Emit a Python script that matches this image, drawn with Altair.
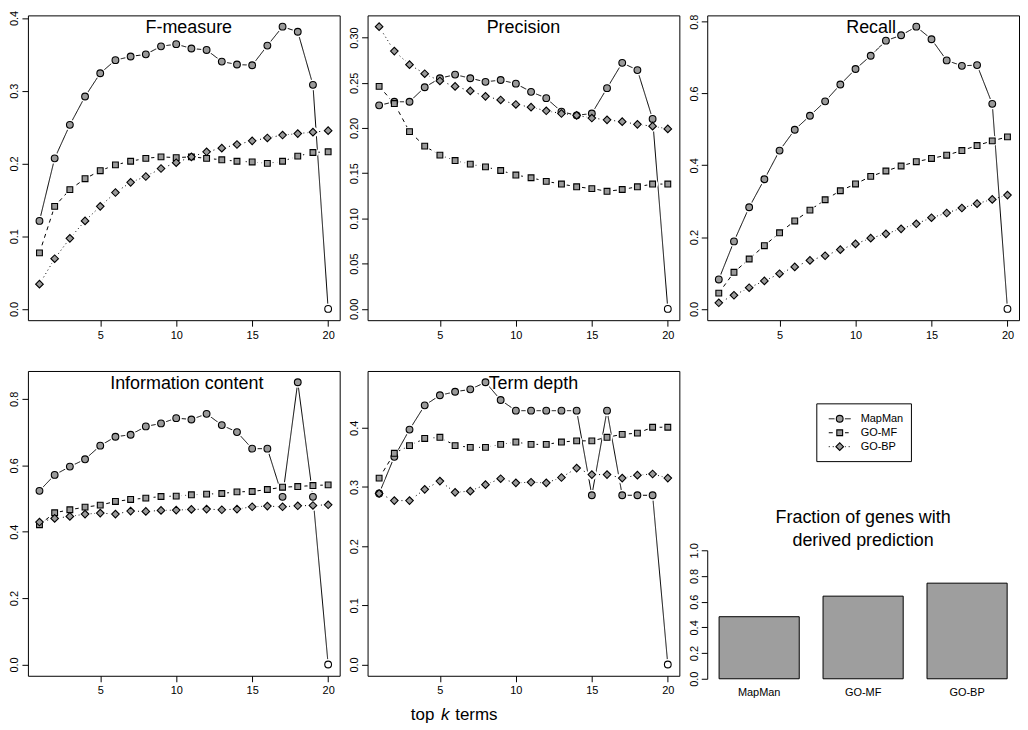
import altair as alt
import pandas as pd

FONT = "Liberation Sans"
GRAY = "#9a9a9a"

k = list(range(1, 21))
series = ["MapMan", "GO-MF", "GO-BP"]
x_ticks = [5, 10, 15, 20]

# F-measure
f_mapman = [0.121, 0.207, 0.253, 0.292, 0.324, 0.342, 0.347, 0.350, 0.361, 0.364,
            0.358, 0.356, 0.340, 0.336, 0.335, 0.362, 0.388, 0.381, 0.308, 0.000]
f_gomf = [0.077, 0.141, 0.164, 0.179, 0.190, 0.198, 0.203, 0.207, 0.209, 0.208,
          0.209, 0.207, 0.205, 0.203, 0.202, 0.200, 0.203, 0.210, 0.215, 0.216]
f_gobp = [0.034, 0.069, 0.097, 0.121, 0.141, 0.160, 0.174, 0.182, 0.193, 0.201,
          0.209, 0.216, 0.221, 0.226, 0.231, 0.235, 0.239, 0.241, 0.243, 0.245]

# Precision
p_mapman = [0.225, 0.229, 0.229, 0.245, 0.255, 0.259, 0.255, 0.251, 0.253, 0.249,
            0.240, 0.233, 0.218, 0.214, 0.216, 0.244, 0.272, 0.264, 0.210, 0.000]
p_gomf = [0.246, 0.227, 0.196, 0.180, 0.170, 0.164, 0.160, 0.157, 0.153, 0.148,
          0.145, 0.141, 0.138, 0.135, 0.133, 0.130, 0.132, 0.135, 0.138, 0.138]
p_gobp = [0.312, 0.285, 0.270, 0.260, 0.252, 0.246, 0.241, 0.235, 0.231, 0.226,
          0.223, 0.219, 0.216, 0.214, 0.211, 0.209, 0.207, 0.204, 0.202, 0.199]

# Recall
r_mapman = [0.082, 0.188, 0.283, 0.361, 0.441, 0.499, 0.538, 0.578, 0.625, 0.668,
            0.705, 0.747, 0.762, 0.786, 0.751, 0.692, 0.677, 0.679, 0.571, 0.000]
r_gomf = [0.044, 0.102, 0.139, 0.176, 0.212, 0.245, 0.275, 0.304, 0.329, 0.348,
          0.369, 0.384, 0.398, 0.410, 0.419, 0.428, 0.441, 0.455, 0.468, 0.479]
r_gobp = [0.017, 0.038, 0.059, 0.078, 0.098, 0.117, 0.135, 0.148, 0.165, 0.181,
          0.197, 0.209, 0.223, 0.237, 0.254, 0.267, 0.281, 0.293, 0.305, 0.317]

# Information content
ic_mapman = [0.523, 0.571, 0.596, 0.618, 0.659, 0.686, 0.692, 0.717, 0.726, 0.742,
             0.738, 0.755, 0.721, 0.700, 0.650, 0.650, 0.505, 0.850, 0.505, 0.000]
ic_gomf = [0.421, 0.457, 0.466, 0.474, 0.480, 0.491, 0.497, 0.501, 0.506, 0.507,
           0.511, 0.513, 0.515, 0.520, 0.521, 0.527, 0.534, 0.536, 0.539, 0.541]
ic_gobp = [0.429, 0.440, 0.446, 0.453, 0.456, 0.453, 0.462, 0.461, 0.464, 0.465,
           0.467, 0.468, 0.466, 0.468, 0.475, 0.477, 0.475, 0.478, 0.479, 0.481]

# Term depth
td_mapman = [0.289, 0.351, 0.397, 0.438, 0.455, 0.461, 0.465, 0.477, 0.447, 0.429,
             0.429, 0.429, 0.429, 0.429, 0.286, 0.429, 0.286, 0.286, 0.286, 0.000]
td_gomf = [0.315, 0.357, 0.370, 0.382, 0.384, 0.370, 0.367, 0.367, 0.372, 0.376,
           0.372, 0.372, 0.376, 0.378, 0.378, 0.384, 0.389, 0.391, 0.401, 0.401]
td_gobp = [0.289, 0.277, 0.277, 0.296, 0.310, 0.291, 0.293, 0.304, 0.314, 0.307,
           0.308, 0.307, 0.316, 0.332, 0.321, 0.321, 0.315, 0.320, 0.322, 0.315]

# Fraction of genes with derived prediction
bar_values = [0.483, 0.643, 0.744]

W, H = 313, 306
BAR_H = 129

SHAPES = ["circle", "square", "diamond"]
SIZES = [46, 34, 58]
dash_scale = alt.Scale(domain=series, range=[[1, 0], [4, 4], [1, 3]])


def point_layers(base):
    out = []
    for s, shp, sz in zip(series, SHAPES, SIZES):
        out.append(
            base.transform_filter(alt.datum.series == s).mark_point(
                filled=True, opacity=1, stroke="black", strokeWidth=1.1, shape=shp, size=sz
            ).encode(fill=alt.condition("datum.value == 0", alt.value("white"), alt.value(GRAY)))
        )
    return out


def line_panel(title, vals, ticks, fmt, title_dx, extra=None):
    rows = []
    for s, v in zip(series, vals):
        for kk, vv in zip(k, v):
            rows.append({"k": kk, "series": s, "value": vv})
    df = pd.DataFrame(rows)
    vmax = max(max(v) for v in vals)
    domain = [-0.04 * vmax, 1.04 * vmax]
    x = alt.X("k:Q", scale=alt.Scale(domain=[0.24, 20.76], nice=False, zero=False),
              axis=alt.Axis(values=x_ticks, title=None, labelPadding=3))
    y = alt.Y("value:Q", scale=alt.Scale(domain=domain, nice=False, zero=False),
              axis=alt.Axis(values=ticks, format=fmt, labelAngle=270, title=None,
                            labelPadding=2))
    base = alt.Chart(df).encode(x=x, y=y)
    lines = base.mark_line(color="black", strokeWidth=1).encode(
        detail="series:N",
        strokeDash=alt.StrokeDash("series:N", scale=dash_scale, legend=None),
    )
    halo = base.mark_point(filled=True, color="white", opacity=1, size=120, shape="circle")
    ttl = alt.Chart(pd.DataFrame({"t": [title]})).mark_text(
        font=FONT, fontSize=18, baseline="top", align="center", dx=title_dx, color="black"
    ).encode(x=alt.value(W / 2), y=alt.value(4), text="t:N")
    layers = [lines, halo] + point_layers(base) + [ttl]
    if extra:
        layers += extra
    return alt.layer(*layers).properties(width=W, height=H)


p1 = line_panel("F-measure", [f_mapman, f_gomf, f_gobp], [0, 0.1, 0.2, 0.3, 0.4], ".1f", 5)
p2 = line_panel("Precision", [p_mapman, p_gomf, p_gobp], [0, 0.05, 0.1, 0.15, 0.2, 0.25, 0.3], ".2f", 0)
p3 = line_panel("Recall", [r_mapman, r_gomf, r_gobp], [0, 0.2, 0.4, 0.6, 0.8], ".1f", 8)
p4 = line_panel("Information content", [ic_mapman, ic_gomf, ic_gobp], [0, 0.2, 0.4, 0.6, 0.8], ".1f", 3)

# x-axis caption "top k terms" (italic k) placed below the Term depth panel
cap_df = pd.DataFrame({"a": ["top"], "b": ["k"], "c": ["terms"]})
cap_y = H + 44
cap1 = alt.Chart(cap_df).mark_text(font=FONT, fontSize=17, align="right", baseline="alphabetic", color="black").encode(
    x=alt.value(67), y=alt.value(cap_y), text="a:N")
cap2 = alt.Chart(cap_df).mark_text(font=FONT, fontSize=17, fontStyle="italic", align="center", baseline="alphabetic", color="black").encode(
    x=alt.value(78), y=alt.value(cap_y), text="b:N")
cap3 = alt.Chart(cap_df).mark_text(font=FONT, fontSize=17, align="left", baseline="alphabetic", color="black").encode(
    x=alt.value(88), y=alt.value(cap_y), text="c:N")

p5 = line_panel("Term depth", [td_mapman, td_gomf, td_gobp], [0, 0.1, 0.2, 0.3, 0.4], ".1f", 10,
                extra=[cap1, cap2, cap3])

# Legend (drawn as its own small chart)
leg_df = pd.DataFrame({"series": series, "i": list(range(len(series)))})
leg_y = alt.Y("i:Q", scale=alt.Scale(domain=[0, 2], range=[48, 76], nice=False, zero=False), axis=None)
box = alt.Chart(pd.DataFrame({"a": [0]})).mark_rect(fill="white", stroke="black", strokeWidth=1).encode(
    x=alt.value(110), x2=alt.value(205), y=alt.value(33), y2=alt.value(91))
leg_base = alt.Chart(leg_df).encode(y=leg_y)
leg_lines = leg_base.mark_rule(color="black", strokeWidth=1).encode(
    x=alt.value(122), x2=alt.value(144),
    strokeDash=alt.StrokeDash("series:N", scale=dash_scale, legend=None))
leg_halo = leg_base.mark_point(filled=True, color="white", opacity=1, size=110, shape="circle").encode(
    x=alt.value(133))
leg_pts = [
    leg_base.transform_filter(alt.datum.series == s).mark_point(
        filled=True, opacity=1, stroke="black", strokeWidth=1.1, fill=GRAY, shape=shp, size=sz
    ).encode(x=alt.value(133))
    for s, shp, sz in zip(series, SHAPES, SIZES)
]
leg_txt = leg_base.mark_text(font=FONT, fontSize=11, align="left", baseline="middle", color="black").encode(
    x=alt.value(154), text="series:N")
legend_chart = alt.layer(box, leg_lines, leg_halo, *leg_pts, leg_txt).properties(
    width=W, height=91, view=alt.ViewBackground(strokeOpacity=0))

# Bar chart
bar_df = pd.DataFrame({"cat": series, "frac": bar_values})
bar_chart = alt.Chart(bar_df).mark_bar(fill="#9e9e9e", stroke="black", strokeWidth=1).encode(
    x=alt.X("cat:N", sort=series, scale=alt.Scale(paddingInner=0.229, paddingOuter=0.114),
            axis=alt.Axis(title=None, labelAngle=0, ticks=False, domain=False, labelPadding=8)),
    y=alt.Y("frac:Q", scale=alt.Scale(domain=[0, 1], nice=False),
            axis=alt.Axis(values=[0, 0.2, 0.4, 0.6, 0.8, 1.0], format=".1f", labelAngle=270,
                          title=None, domain=True, labelPadding=2)),
).properties(
    width=W, height=BAR_H,
    view=alt.ViewBackground(strokeOpacity=0),
    title=alt.TitleParams(["Fraction of genes with", "derived prediction"], font=FONT, fontSize=18,
                          fontWeight="normal", lineHeight=23, offset=-7, anchor="middle", color="black"),
)

cell3 = alt.vconcat(legend_chart, bar_chart, spacing=46)
row1 = alt.hconcat(p1, p2, p3, spacing=7)
row2 = alt.hconcat(p4, p5, cell3, spacing=7)

chart = alt.vconcat(row1, row2, spacing=29).properties(
    padding=0, background="white"
).configure_view(
    stroke="black", strokeWidth=1
).configure_axis(
    labelFont=FONT, labelFontSize=11, labelColor="black", tickColor="black",
    domainColor="black", tickSize=6, grid=False, domain=False,
).configure_concat(spacing=7)

chart.save("out.html", embed_options={"renderer": "svg", "actions": False})
